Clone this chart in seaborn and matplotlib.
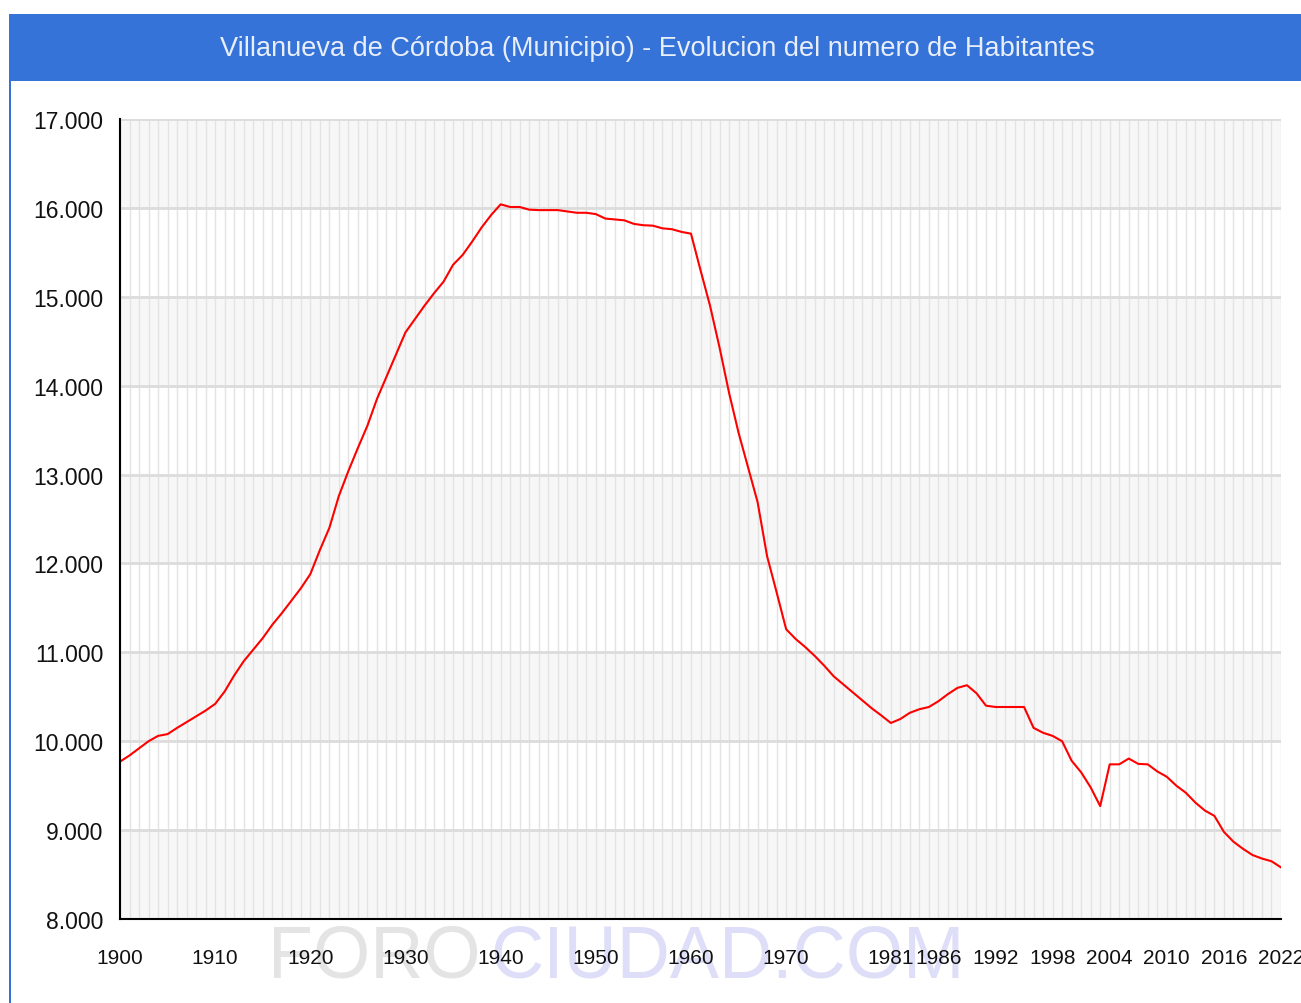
import matplotlib
matplotlib.use("Agg")
import matplotlib.pyplot as plt
import seaborn as sns
from matplotlib.patches import Rectangle
from matplotlib.ticker import FuncFormatter, MultipleLocator

# population (year -> habitantes)
years = [1900, 1901, 1902, 1903, 1904, 1905, 1906, 1907, 1908, 1909,
         1910, 1911, 1912, 1913, 1914, 1915, 1916, 1917, 1918, 1919,
         1920, 1921, 1922, 1923, 1924, 1925, 1926, 1927, 1928, 1929,
         1930, 1931, 1932, 1933, 1934, 1935, 1936, 1937, 1938, 1939,
         1940, 1941, 1942, 1943, 1944, 1945, 1946, 1947, 1948, 1949,
         1950, 1951, 1952, 1953, 1954, 1955, 1956, 1957, 1958, 1959,
         1960, 1961, 1962, 1963, 1964, 1965, 1966, 1967, 1968, 1969,
         1970, 1971, 1972, 1973, 1974, 1975, 1976, 1977, 1978, 1979,
         1980, 1981, 1982, 1983, 1984, 1985, 1986, 1987, 1988, 1989,
         1990, 1991, 1992, 1993, 1994, 1995, 1996, 1997, 1998, 1999,
         2000, 2001, 2002, 2003, 2004, 2005, 2006, 2007, 2008, 2009,
         2010, 2011, 2012, 2013, 2014, 2015, 2016, 2017, 2018, 2019,
         2020, 2021, 2022]
habitantes = [9770, 9840, 9920, 10000, 10060, 10080, 10150, 10215, 10280, 10345,
              10420, 10560, 10740, 10900, 11030, 11160, 11310, 11440, 11580, 11720,
              11880, 12150, 12400, 12760, 13040, 13300, 13550, 13850, 14100, 14350,
              14600, 14750, 14900, 15040, 15170, 15360, 15470, 15620, 15780, 15920,
              16040, 16010, 16010, 15980, 15975, 15975, 15975, 15960, 15945, 15945,
              15930, 15880, 15870, 15860, 15820, 15805, 15800, 15770, 15760, 15730,
              15710, 15300, 14900, 14430, 13920, 13470, 13080, 12690, 12080, 11675,
              11260, 11150, 11060, 10960, 10850, 10730, 10640, 10550, 10460, 10370,
              10290, 10205, 10250, 10320, 10360, 10385, 10450, 10530, 10600, 10630,
              10540, 10400, 10385, 10385, 10385, 10385, 10150, 10095, 10060, 10000,
              9780, 9650, 9480, 9270, 9740, 9740, 9805, 9745, 9740, 9660,
              9600, 9500, 9420, 9310, 9220, 9160, 8980, 8870, 8790, 8720,
              8680, 8650, 8580]

label_years = [1900, 1910, 1920, 1930, 1940, 1950, 1960, 1970,
               1981, 1986, 1992, 1998, 2004, 2010, 2016, 2022]
title = "Villanueva de Córdoba (Municipio) - Evolucion del numero de Habitantes"

sns.set_style("white")
plt.rcParams['font.family'] = ['Liberation Sans', 'DejaVu Sans']

W, H = 1301, 1004
fig = plt.figure(figsize=(W / 100, H / 100), dpi=100)

# title bar and blue frame line
blue = '#3573d8'
fig.add_artist(Rectangle((10 / W, 1 - 82 / H), 1 - 10 / W, 67 / H,
                         transform=fig.transFigure, color=blue, lw=0, zorder=1))
fig.add_artist(Rectangle((9 / W, 0), 2 / W, 1 - 15 / H,
                         transform=fig.transFigure, color=blue, lw=0, zorder=1))
fig.text(657 / W, 1 - 49 / H, title, ha='center', va='center',
         fontsize=19.5, color='#e8eefa', zorder=2)

# watermark
fig.text(268 / W, 1 - 978 / H, "FORO", fontsize=53, color='#e4e4e4',
         ha='left', va='baseline', zorder=-1)
fig.text(490 / W, 1 - 978 / H, "CIUDAD.COM", fontsize=53, color='#dedef8',
         ha='left', va='baseline', zorder=-1)

ax = fig.add_axes([120 / W, 1 - 920 / H, 1161 / W, 800 / H])
ax.set_facecolor('none')

# alternating bands
for lo in range(8000, 17000, 2000):
    ax.axhspan(lo, lo + 1000, color='#f7f7f7', lw=0, zorder=0)

for yr in range(1900, 2023):
    ax.axvline(yr, color='#e3e3e3', lw=1.0, zorder=1)
for v in range(8000, 17001, 1000):
    ax.axhline(v, color='#dcdcdc', lw=2, zorder=1)

sns.lineplot(x=years, y=habitantes, color='#ff0000', lw=1.5, ax=ax, zorder=3)

ax.set_xlim(1900, 2022)
ax.set_ylim(8000, 17000)
ax.set_xlabel('')
ax.set_ylabel('')

ax.set_xticks(list(range(1900, 2023)))
ax.set_xticklabels([str(y) if y in label_years else '' for y in range(1900, 2023)])
ax.yaxis.set_major_locator(MultipleLocator(1000))
ax.yaxis.set_minor_locator(MultipleLocator(500))
ax.yaxis.set_major_formatter(FuncFormatter(lambda v, p: f"{int(v):,}".replace(',', '.')))

ax.tick_params(axis='x', direction='in', length=11, width=1.3, color='black',
               labelsize=15, pad=21, labelcolor='#111111')
ax.tick_params(axis='y', which='major', direction='in', length=7, width=1.5,
               color='black', labelsize=16.5, pad=12, labelcolor='#111111')
ax.tick_params(axis='y', which='minor', direction='in', length=5, width=1.5, color='black')

for s in ['top', 'right']:
    ax.spines[s].set_visible(False)
for s in ['left', 'bottom']:
    ax.spines[s].set_color('black')
    ax.spines[s].set_linewidth(1.5)
    ax.spines[s].set_zorder(4)

fig.savefig('out.png', dpi=100)
